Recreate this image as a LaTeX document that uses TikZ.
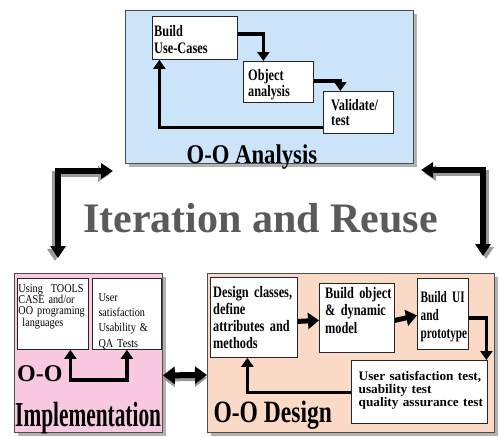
\documentclass[tikz,border=0pt]{standalone}
\usepackage{fontspec}
\setmainfont{Liberation Serif}
\newfontfamily\fBox[FakeStretch=0.77]{Liberation Serif}
\newfontfamily\fBoxUI[FakeStretch=0.70]{Liberation Serif}
\newfontfamily\fAna[FakeStretch=0.84]{Liberation Serif}
\newfontfamily\fImpl[FakeStretch=0.61]{Liberation Serif}
\newfontfamily\fDes[FakeStretch=0.76]{Liberation Serif}
\newfontfamily\fUS[FakeStretch=1.02]{Liberation Serif}
\newfontfamily\fTools[FakeStretch=0.85]{Liberation Serif}
\usetikzlibrary{arrows.meta,shadows,calc}
\definecolor{anablue}{HTML}{CCE4FA}
\definecolor{implpink}{HTML}{F9C9E2}
\definecolor{despeach}{HTML}{FADAC6}
\definecolor{itergray}{HTML}{5A5A5A}
\begin{document}
\begin{tikzpicture}[x=1pt,y=-1pt,
  panel/.style={draw=black!70, line width=0.8pt, anchor=north west, inner sep=0pt,
    drop shadow={shadow xshift=4pt, shadow yshift=-4pt, fill=black!30, opacity=1}},
  box/.style={draw=black!85, line width=0.8pt, fill=white, anchor=north west, inner sep=0pt},
  txt/.style={anchor=base west, inner sep=0pt, align=left, text width=150pt},
  btxt/.style={txt, font=\fBox\bfseries\fontsize{16}{16.7}\selectfont},
  title/.style={inner sep=0pt, anchor=base west},
  flow/.style={line width=3.5pt, line join=miter, -{Triangle[length=9pt,width=12pt]}},
  bigflow/.style={line width=5pt, -{Triangle[length=11pt,width=16pt]}},
  iterarrow/.style={line width=6pt, line join=miter, {Triangle[length=12pt,width=15pt]}-{Triangle[length=12pt,width=15pt]}},
]
\useasboundingbox (0,0) rectangle (499,437);

% ---------- panels ----------
\node[panel, fill=anablue, minimum width=288pt, minimum height=153pt] (ana) at (125,10) {};
\node[panel, fill=implpink, minimum width=148pt, minimum height=159pt] (impl) at (14,273) {};
\node[panel, fill=despeach, minimum width=287pt, minimum height=159pt] (des) at (207,273) {};

% ---------- analysis ----------
\node[box, minimum width=85pt, minimum height=43pt] (buc) at (152,16) {};
\node[box, minimum width=70pt, minimum height=41pt] (oa) at (243,61) {};
\node[box, minimum width=70pt, minimum height=42pt] (val) at (323,91) {};
\node[btxt] (buct) at (154,36.7) {Build\\Use-Cases};
\node[btxt] (oat) at (248,80) {Object\\analysis};
\node[btxt, font=\fBox\bfseries\fontsize{16}{15.5}\selectfont] (valt) at (331,110) {Validate/\\test};
\draw[flow] ([yshift=4pt]buc.east) -| ([xshift=-15pt]oa.north);
\draw[flow] ([yshift=1pt]oa.east) -| ([xshift=-18pt]val.north);
\draw[flow] ([yshift=-15pt]val.west) -| ([xshift=-35.5pt]buc.south);
\node[title, font=\fAna\bfseries\fontsize{27}{27}\selectfont] (anat) at (186.5,163) {O-O Analysis};

% ---------- iteration ----------
\node[title, font=\bfseries\fontsize{42}{42}\selectfont, text=itergray] (iter) at (83,232) {Iteration and Reuse};
\coordinate (iL1) at (113,171);
\coordinate (iL2) at (58,258);
\coordinate (iR1) at (421,170);
\coordinate (iR2) at (483,256);
\draw[iterarrow, draw=black!40, transform canvas={xshift=-3pt,yshift=-3pt}] (iL1) -| (iL2);
\draw[iterarrow] (iL1) -| (iL2);
\draw[iterarrow, draw=black!40, transform canvas={xshift=3pt,yshift=-3pt}] (iR1) -| (iR2);
\draw[iterarrow] (iR1) -| (iR2);

% ---------- implementation ----------
\node[box, minimum width=71pt, minimum height=71pt] (tools) at (17,278) {};
\node[box, minimum width=69pt, minimum height=71pt] (qa) at (92,278) {};
\node[txt, font=\fTools\fontsize{12}{10.9}\selectfont] (toolst) at (18.3,292) {Using\ \ TOOLS\\CASE and/or\\OO programing\\\ languages};
\node[txt, font=\fTools\fontsize{12}{15.2}\selectfont] (qat) at (98.3,301.5) {User\\satisfaction\\Usability \&\\QA Tests};
\draw[flow, {Triangle[length=9pt,width=12pt]}-{Triangle[length=9pt,width=12pt]}] ([xshift=17.5pt]tools.south) |- (126,380) -| (qa.south);
\node[title, font=\bfseries\fontsize{24}{24}\selectfont] (oo) at (17,381) {O-O};
\node[title, font=\fImpl\bfseries\fontsize{35}{35}\selectfont] (implt) at (15,426.5) {Implementation};

% ---------- link ----------
\draw[iterarrow, {Triangle[length=12pt,width=17pt]}-{Triangle[length=12pt,width=17pt]}, draw=black!40, transform canvas={yshift=-3pt}] ([yshift=-22.5pt]impl.east) -- (des.west |- 0,375);
\draw[iterarrow, {Triangle[length=12pt,width=17pt]}-{Triangle[length=12pt,width=17pt]}] ([yshift=-22.5pt]impl.east) -- (des.west |- 0,375);

% ---------- design ----------
\node[box, minimum width=87pt, minimum height=80pt] (dc) at (210,277) {};
\node[box, minimum width=75pt, minimum height=69pt] (bo) at (319,283) {};
\node[box, minimum width=51pt, minimum height=71pt] (ui) at (417,278) {};
\node[box, minimum width=136pt, minimum height=63pt] (us) at (351,360) {};
\node[btxt, font=\fBox\bfseries\fontsize{16}{16.8}\selectfont] (dct) at (213,297.7) {Design classes,\\define\\attributes and\\methods};
\node[btxt, font=\fBox\bfseries\fontsize{16}{17.5}\selectfont] (bot) at (325,298.3) {Build object\\\& dynamic\\model};
\node[btxt, font=\fBoxUI\bfseries\fontsize{16}{17.8}\selectfont] (uit) at (420.5,302.7) {Build UI\\and\\prototype};
\node[txt, font=\fUS\bfseries\fontsize{13}{13.4}\selectfont] (ust) at (358.5,380) {User satisfaction test,\\usability test\\quality assurance test};
\draw[bigflow] ([yshift=-4pt]dc.east) -- ([yshift=-2.5pt]bo.west);
\draw[bigflow] ([yshift=-2.5pt]bo.east) -- ([yshift=-1.5pt]ui.west);
\draw[flow] ([yshift=-4pt]ui.east) -| ([xshift=67pt]us.north);
\draw[flow] ([yshift=-0.5pt]us.west) -| ([xshift=-6.5pt]dc.south);
\node[title, font=\fDes\bfseries\fontsize{31}{31}\selectfont] (dest) at (213.3,422.5) {O-O Design};
\end{tikzpicture}
\end{document}
